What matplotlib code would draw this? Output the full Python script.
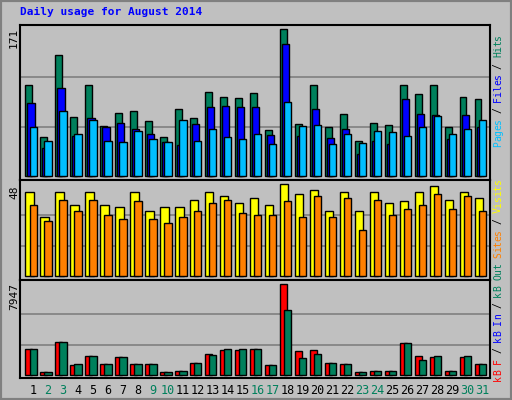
import matplotlib
matplotlib.use("Agg")
import matplotlib.pyplot as plt
import numpy as np

days = list(range(1, 32))
hits  = [105,45,139,68,105,58,72,75,63,45,77,67,96,91,90,95,53,168,60,104,56,71,41,61,59,105,94,105,56,91,88]
files = [84,32,101,46,67,56,61,54,49,39,36,60,79,80,79,79,47,151,46,77,44,54,26,40,37,89,71,70,43,70,56]
pages = [56,40,75,49,65,41,39,52,43,39,64,41,54,45,43,49,37,85,58,59,37,49,38,52,51,46,56,69,48,54,65]
visits = [44,31,44,37,44,37,36,44,34,36,36,40,44,42,38,41,37,48,43,45,34,44,34,44,38,39,44,47,40,44,41]
sites  = [37,29,40,34,40,32,30,39,30,28,31,34,38,40,33,32,32,39,31,42,31,41,24,40,32,35,37,43,35,42,34]
kbf   = [2290,260,2900,870,1650,960,1570,960,960,260,350,1040,1830,2200,2200,2290,870,7947,2090,2200,1040,960,260,350,350,2790,1650,1570,350,1570,960]
kbout = [2290,260,2900,960,1650,960,1570,960,960,260,350,1040,1740,2290,2290,2290,870,5660,1480,1830,1040,960,260,350,350,2790,1300,1650,350,1650,960]
weekend = {2,3,9,10,16,17,23,24,30,31}
max1, max2, max3 = 171, 48, 7947

W, H = 512, 400
fig = plt.figure(figsize=(W/100, H/100), dpi=100, facecolor="#C0C0C0")
fig.patches.append(plt.Rectangle((0,0),1,1,transform=fig.transFigure,fill=False,
                                 edgecolor="#808080",lw=3))
def ax_px(x0, y0, x1, y1):
    return fig.add_axes([x0/W, 1-y1/H, (x1-x0)/W, (y1-y0)/H], facecolor="#C0C0C0")

X0, X1 = 20, 490
XA, XB = 0.485, 31.86
a1 = ax_px(X0, 25, X1, 180)
a2 = ax_px(X0, 180, X1, 280)
a3 = ax_px(X0, 280, X1, 378)
d = np.array(days)
def bars(ax, left, right, vals, color):
    ax.bar(d+left, vals, width=right-left, align='edge', color=color, edgecolor='black', lw=1, zorder=3)

bars(a1, -0.17, 0.29, hits, "#00805C")
bars(a1, -0.04, 0.46, files, "#0000FF")
bars(a1, 0.12, 0.60, pages, "#00BFFF")
a1.set_ylim(-4, 173)
bars(a2, -0.17, 0.40, visits, "#FFFF00")
bars(a2, 0.12, 0.60, sites, "#FF8000")
a2.set_ylim(-1.9, 50.2)
bars(a3, -0.17, 0.31, kbf, "#FF0000")
bars(a3, 0.12, 0.60, kbout, "#00805C")
a3.set_ylim(-235, 8295)

for ax, mx in ((a1, max1), (a2, max2), (a3, max3)):
    ax.set_xlim(XA, XB)
    for g in (mx/3, 2*mx/3):
        ax.axhline(g, color="#808080", lw=1.2, zorder=1)
    ax.set_xticks([]); ax.set_yticks([])
    for s in ax.spines.values():
        s.set_color("black"); s.set_linewidth(1.5)

mono = "DejaVu Sans Mono"
fig.text(20/W, 1-12/H, "Daily usage for August 2014", color="#0000FF", fontsize=8,
         fontweight="bold", family=mono, va="center", ha="left")
for y, t in ((38, str(max1)), (192, str(max2)), (296, str(max3))):
    fig.text(14/W, 1-y/H, t, rotation=90, fontsize=8, family=mono, ha="center", va="center")
for i in days:
    a3.text(i + 0.35, -0.13, str(i), transform=a3.get_xaxis_transform(), fontsize=8.5,
            family=mono, ha="center", va="center",
            color="#00805C" if i in weekend else "black")

def vlabel(ybottom, parts, step=5.6):
    y = ybottom
    for txt, col in parts:
        for ch in txt:
            if ch != " ":
                fig.text(498/W, 1-y/H, ch, rotation=90, fontsize=7, family=mono,
                         ha="center", va="bottom", color=col)
            y -= step
vlabel(147, [("Pages", "#00BFFF"), (" / ", "black"), ("Files", "#0000FF"), (" / ", "black"), ("Hits", "#00805C")])
vlabel(258, [("Sites", "#FF8000"), (" / ", "black"), ("Visits", "#FFFF00")])
vlabel(381, [("kB F", "#FF0000"), (" / ", "black"), ("kB In", "#0000FF"), (" / ", "black"), ("kB Out", "#00805C")])

fig.savefig("out.png", dpi=100, facecolor=fig.get_facecolor())
